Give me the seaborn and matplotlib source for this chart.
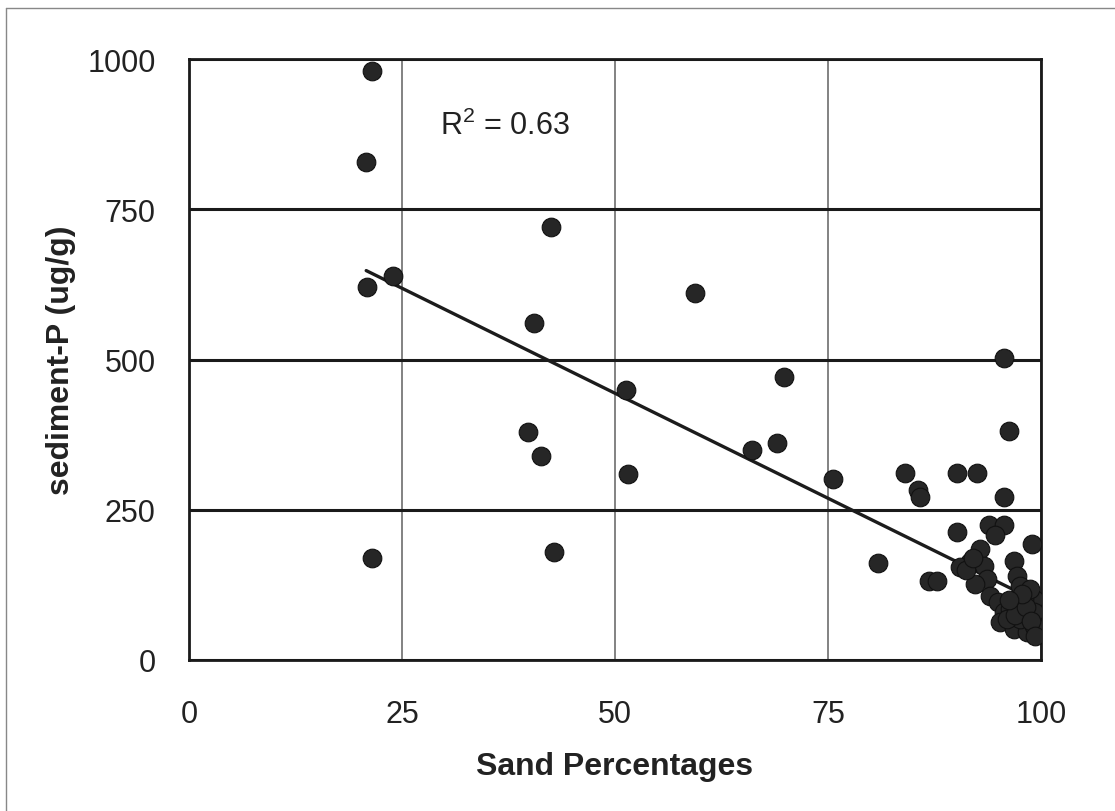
import numpy as np
import pandas as pd
import matplotlib
matplotlib.use("Agg")
import matplotlib.pyplot as plt
from matplotlib.lines import Line2D
import seaborn as sns

# values
sand_pct = [21.5, 20.8, 20.9, 23.9, 21.5, 42.5, 40.5, 39.8, 41.3, 42.9,
            51.3, 51.5, 59.4, 69.8, 66.1, 69.0, 75.6, 80.9, 84.0, 85.6,
            85.8, 90.2, 92.5, 95.7, 96.3, 95.7, 90.1, 86.8, 87.8, 93.9,
            95.7, 94.6, 98.9, 92.9, 91.7, 90.5, 93.3, 93.7, 92.3, 94.0,
            94.9, 96.8, 97.2, 97.5, 95.7, 95.2, 96.8, 98.4, 99.2, 99.2,
            98.0, 97.5, 99.2, 96.4, 98.7, 96.0, 97.0, 98.2, 98.8, 97.8,
            96.2, 99.3, 91.2, 92.0]
sediment_p = [980, 829, 621, 639, 170, 720, 561, 379, 339, 180,
              449, 309, 611, 471, 349, 361, 301, 161, 311, 283,
              271, 311, 311, 502, 381, 271, 213, 131, 131, 225,
              225, 208, 193, 185, 163, 155, 156, 135, 126, 106,
              97, 165, 140, 123, 80, 63, 52, 47, 101, 80,
              101, 68, 57, 85, 118, 68, 75, 88, 65, 110,
              100, 40, 150, 170]
# linear trend line as drawn in the original (end points)
trend_sand = [20.8, 99.2]
trend_p = [648, 100]
x_ticks = [0, 25, 50, 75, 100]
y_ticks = [0, 250, 500, 750, 1000]
r2_label = "R$^2$ = 0.63"

df = pd.DataFrame({"sand": sand_pct, "p": sediment_p})
trend = pd.DataFrame({"sand": trend_sand, "p": trend_p})

sns.set_style("white")
plt.rcParams["font.family"] = ["Liberation Sans", "DejaVu Sans"]
plt.rcParams["mathtext.fontset"] = "custom"
plt.rcParams["mathtext.rm"] = "Liberation Sans"
plt.rcParams["mathtext.it"] = "Liberation Sans"

fig = plt.figure(figsize=(11.15, 8.12), dpi=100)
ax = fig.add_axes([0.1695, 0.186, 0.7641, 0.740])

# trend line sits under the markers
sns.lineplot(data=trend, x="sand", y="p", ax=ax, color="#1c1c1c",
             lw=2.4, zorder=2)
sns.scatterplot(data=df, x="sand", y="p", ax=ax, s=180, color="#262626",
                edgecolor="#111111", linewidth=0.8, zorder=3)

ax.set_xlim(0, 100)
ax.set_ylim(0, 1000)
ax.set_xticks(x_ticks)
ax.set_yticks(y_ticks)
ax.tick_params(length=0, labelsize=22, colors="#222222")
ax.tick_params(axis="x", pad=28)
ax.tick_params(axis="y", pad=24)

ax.set_axisbelow(True)
ax.yaxis.grid(True, color="#1a1a1a", lw=2.2)
ax.xaxis.grid(True, color="#606060", lw=1.1)
for side in ["left", "right", "top", "bottom"]:
    ax.spines[side].set_visible(True)
    ax.spines[side].set_color("#1a1a1a")
    ax.spines[side].set_linewidth(2.0)

ax.set_xlabel("Sand Percentages", fontsize=23, fontweight="bold",
              color="#222222", labelpad=16)
ax.set_ylabel("sediment-P (ug/g)", fontsize=23, fontweight="bold",
              color="#222222", labelpad=8)

ax.text(0.295, 0.89, r2_label, transform=ax.transAxes, fontsize=22,
        color="#222222", ha="left", va="center")

# thin outer frame of the scanned figure
W, H = 1115, 812
frame = dict(color="#888888", lw=1.0, transform=fig.transFigure)
fig.add_artist(Line2D([6 / W, 6 / W], [0, 1 - 9 / H], **frame))
fig.add_artist(Line2D([6 / W, 1], [1 - 9 / H, 1 - 9 / H], **frame))

fig.savefig("out.png", dpi=100, facecolor="white")
